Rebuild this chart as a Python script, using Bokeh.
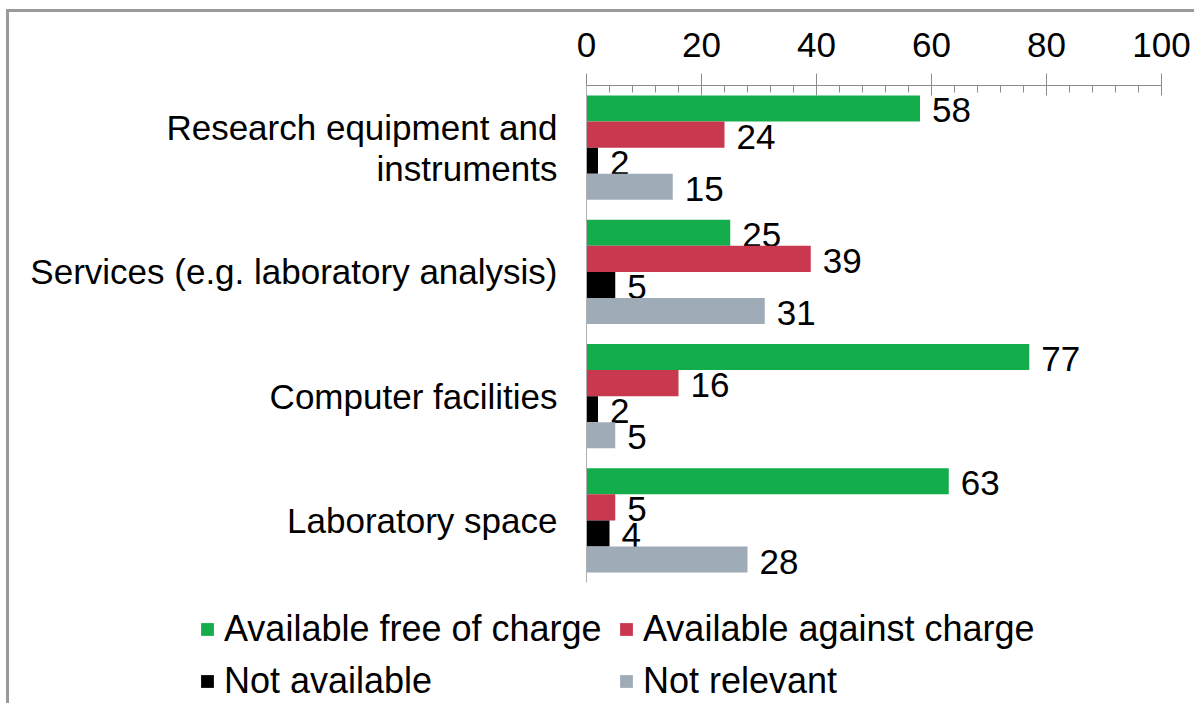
from bokeh.plotting import figure
from bokeh.models import (ColumnDataSource, FactorRange, Range1d, Legend, LegendItem,
                          SingleIntervalTicker)
from bokeh.transform import dodge
from bokeh.core.properties import value
from bokeh.embed import file_html
from bokeh.resources import INLINE

categories = ["Research equipment and\ninstruments", "Services (e.g. laboratory analysis)",
              "Computer facilities", "Laboratory space"]
series = ["Available free of charge", "Available against charge", "Not available", "Not relevant"]
free_vals = [58, 25, 77, 63]
charge_vals = [24, 39, 16, 5]
notavail_vals = [2, 5, 2, 4]
notrel_vals = [15, 31, 5, 28]
colors = ["#13AD4B", "#C8384E", "#000000", "#9FACB7"]

FONT = "Liberation Sans"

p = figure(width=1188, height=580, output_backend="svg", toolbar_location=None,
           y_range=FactorRange(factors=list(reversed(categories))),
           x_range=Range1d(0, 100), x_axis_location="above",
           min_border_left=577, min_border_right=36, min_border_top=73, min_border_bottom=10)
p.styles = {"border-left": "3px solid #9a9a9a", "border-top": "3px solid #9a9a9a"}
p.margin = (9, 0, 0, 6)
p.outline_line_color = None
p.xgrid.visible = False
p.ygrid.visible = False
p.background_fill_color = "white"
p.border_fill_color = "white"

src = ColumnDataSource(dict(cat=categories, v0=free_vals, v1=charge_vals, v2=notavail_vals, v3=notrel_vals,
                            t0=[str(v) for v in free_vals], t1=[str(v) for v in charge_vals],
                            t2=[str(v) for v in notavail_vals], t3=[str(v) for v in notrel_vals]))

offsets = [0.315, 0.105, -0.105, -0.315]
for i in range(4):
    p.hbar(y=dodge("cat", offsets[i], range=p.y_range), right="v%d" % i, left=0, height=0.21,
           source=src, fill_color=colors[i], line_color=None)
    p.text(x="v%d" % i, y=dodge("cat", offsets[i], range=p.y_range), text="t%d" % i, source=src,
           x_offset=12, y_offset=2, text_baseline="middle", text_align="left",
           text_font=value(FONT), text_font_size="35px", text_color="black")

xa = p.xaxis[0]
xa.ticker = SingleIntervalTicker(interval=20, num_minor_ticks=5)
xa.axis_line_color = "#8c8c8c"
xa.major_tick_line_color = "#8c8c8c"
xa.minor_tick_line_color = "#8c8c8c"
xa.major_tick_in = 10
xa.major_tick_out = 12
xa.minor_tick_in = 7
xa.minor_tick_out = 0
xa.major_label_text_font = FONT
xa.major_label_text_font_size = "35px"
xa.major_label_text_color = "black"
xa.major_label_standoff = 17

ya = p.yaxis[0]
ya.axis_line_color = "#b0b0b0"
ya.major_tick_line_color = None
ya.minor_tick_line_color = None
ya.major_label_text_font = FONT
ya.major_label_text_font_size = "35px"
ya.major_label_text_color = "black"
ya.major_label_text_line_height = 1.05
ya.major_label_standoff = 23

# legend figure: keys come from bars of the same data placed outside its visible range
pl = figure(width=1188, height=114, output_backend="svg", toolbar_location=None,
            x_axis_location=None, y_axis_location=None, min_border=0,
            x_range=Range1d(0, 100), y_range=Range1d(0, 1))
pl.styles = {"border-left": "3px solid #9a9a9a"}
pl.margin = (0, 0, 0, 6)
pl.outline_line_color = None
pl.xgrid.visible = False
pl.ygrid.visible = False
pl.border_fill_color = "white"
pl.background_fill_color = "white"
key_renderers = []
for i in range(4):
    r = pl.hbar(y=-10, right="v%d" % i, left=0, height=0.5, source=src,
                fill_color=colors[i], line_color=None)
    key_renderers.append(r)

order = [0, 2, 1, 3]
legend = Legend(items=[LegendItem(label=series[i], renderers=[key_renderers[i]], index=0) for i in order],
                orientation="vertical", nrows=2, location=(190, 1))
legend.label_text_font = FONT
legend.label_text_font_size = "36px"
legend.label_text_color = "black"
legend.glyph_width = 16
legend.glyph_height = 16
legend.label_standoff = 9
legend.label_width = 384
legend.spacing = 10
legend.border_line_color = None
legend.background_fill_alpha = 0
legend.padding = 0
legend.margin = 0
legend.label_height = 40
pl.add_layout(legend, "center")

open("out.html", "w").write(file_html([p, pl], INLINE))
